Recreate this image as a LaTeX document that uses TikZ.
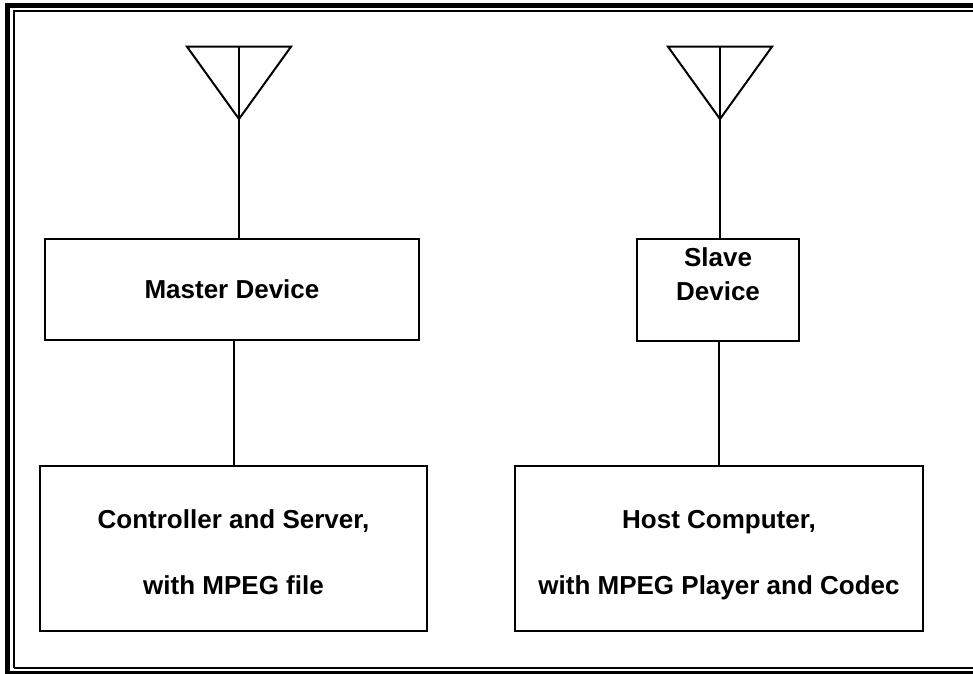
\documentclass[tikz,border=0pt]{standalone}
\usepackage{fontspec}
\setmainfont{Liberation Sans}
\usepackage{tikz}
\usetikzlibrary{positioning}

\begin{document}
\begin{tikzpicture}[x=1pt,y=-1pt,line width=2pt,
    devbox/.style={draw,rectangle,inner sep=0pt,align=center,font=\bfseries\fontsize{26}{32}\selectfont},
    devtext/.style={inner sep=0pt,align=center,font=\bfseries\fontsize{26}{#1}\selectfont},
    devtext/.default=66]
  \useasboundingbox (0,0) rectangle (973,673);
  \clip (0,0) rectangle (973,673);
  \draw[line width=5pt] (7.5,680) -- (7.5,5.8) -- (980,5.8);
  \draw[line width=5pt] (5,673.5) -- (980,673.5);
  \draw (13.7,668.3) -- (13.7,10.8) -- (980,10.8);
  \draw (13.7,668.3) -- (980,668.3);

  \node[devbox,minimum width=374pt,minimum height=101pt] (master) at (232,289.5) {Master Device};
  \node[devbox,minimum width=162pt,minimum height=102pt] (slave) at (718,290) {};
  \node[devbox,minimum width=387pt,minimum height=165pt] (ctrl) at (233.5,548.5) {};
  \node[devbox,minimum width=408pt,minimum height=165pt] (host) at (719,548.5) {};

  \node[devtext=34,below=9pt of slave.north] (slavetxt) {Slave\\Device};
  \node[devtext,below=44pt of ctrl.north] (ctrltxt) {Controller and Server,\\with MPEG file};
  \node[devtext,below=44pt of host.north] (hosttxt) {Host Computer,\\with MPEG Player and Codec};

  \foreach \ant/\dev in {239/master,720/slave} {
    \coordinate (top\dev) at (\ant,46.7);
    \coordinate (tip\dev) at (\ant,119);
    \draw (\ant-52,46.7) -- (\ant+52,46.7) -- (tip\dev) -- cycle;
    \draw (top\dev) -- (tip\dev) -- (tip\dev |- \dev.north);
  }
  \draw (master.south -| ctrl.north) -- (ctrl.north);
  \draw (slave.south -| host.north) -- (host.north);
\end{tikzpicture}
\end{document}
